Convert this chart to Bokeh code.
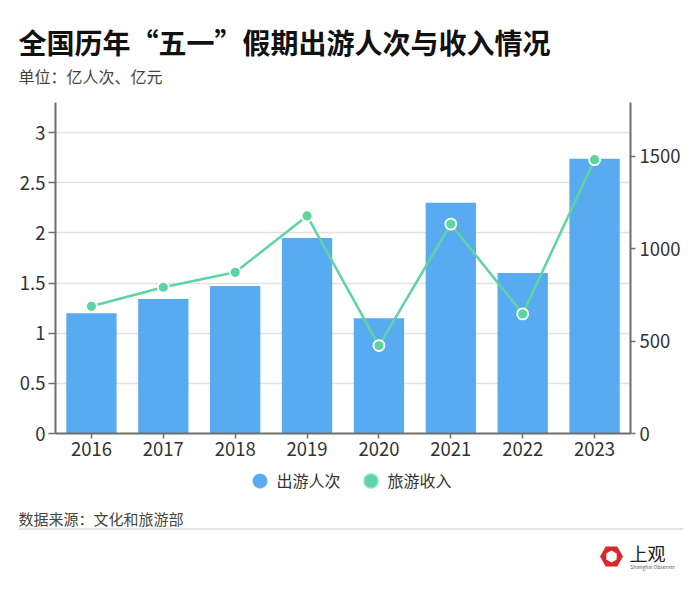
from bokeh.plotting import figure
from bokeh.layouts import column, row
from bokeh.models import (Range1d, LinearAxis, FixedTicker, Label, Legend, LegendItem,
                          ColumnDataSource, FactorRange)
from bokeh.embed import file_html
from bokeh.resources import INLINE
import math

years = ["2016", "2017", "2018", "2019", "2020", "2021", "2022", "2023"]
trips = [1.2, 1.34, 1.47, 1.95, 1.15, 2.3, 1.6, 2.74]          # 出游人次 (亿人次)
revenue = [688, 791, 871.6, 1176.7, 475.6, 1132.3, 646.8, 1480.6]  # 旅游收入 (亿元)
left_ticks = [0, 0.5, 1, 1.5, 2, 2.5, 3]
right_ticks = [0, 500, 1000, 1500]

BLUE = "#59abf1"
GREEN = "#5dd5a3"
FONT = "Noto Sans CJK SC"
AX = "#6e6e6e"
W = 700

def blank_fig(top, bottom):
    f = figure(width=W, height=bottom - top, x_range=Range1d(0, W), y_range=Range1d(bottom, top),
               output_backend="svg", toolbar_location=None, x_axis_location=None,
               y_axis_location=None, min_border=0, min_border_left=0, min_border_right=0,
               min_border_top=0, min_border_bottom=0)
    f.outline_line_color = None
    f.grid.visible = False
    return f

# ---------- header ----------
top = blank_fig(0, 95)
top.add_layout(Label(x=18, y=41, text="全国历年“五一”假期出游人次与收入情况", text_font=FONT,
                     text_font_size="28px", text_font_style="bold", text_color="#111111",
                     text_baseline="middle"))
top.add_layout(Label(x=18, y=75, text="单位：亿人次、亿元", text_font=FONT,
                     text_font_size="16px", text_color="#444444", text_baseline="middle"))

# ---------- main chart ----------
p = figure(width=W, height=367, x_range=FactorRange(*years, range_padding=0),
           y_range=Range1d(0, 3.3), output_backend="svg", toolbar_location=None,
           min_border_left=55, min_border_top=7, min_border_right=70,
           min_border_bottom=29)
p.extra_y_ranges = {"rev": Range1d(0, 1790)}
p.outline_line_color = None

src = ColumnDataSource(dict(year=years, trips=trips, revenue=revenue))
p.vbar(x="year", top="trips", width=0.7, source=src, fill_color=BLUE, line_color=None)
p.line(x="year", y="revenue", source=src, y_range_name="rev", line_color=GREEN, line_width=2.5)
p.scatter(x="year", y="revenue", source=src, y_range_name="rev", size=11,
          fill_color=GREEN, line_color="white", line_width=1.8)

def style_axis(ax, tick_out, standoff):
    ax.axis_line_color = AX
    ax.axis_line_width = 2
    ax.major_tick_line_color = AX
    ax.major_tick_line_width = 1.5
    ax.major_tick_out = tick_out
    ax.major_tick_in = 0
    ax.minor_tick_line_color = None
    ax.major_label_text_font = FONT
    ax.major_label_text_font_size = "18.5px"
    ax.major_label_text_color = "#333333"
    ax.major_label_standoff = standoff

p.yaxis.ticker = FixedTicker(ticks=left_ticks)
style_axis(p.yaxis[0], 7, 3)
style_axis(p.xaxis[0], 5, 3)

raxis = LinearAxis(y_range_name="rev", ticker=FixedTicker(ticks=right_ticks))
style_axis(raxis, 5, 4)
p.add_layout(raxis, "right")

p.xgrid.grid_line_color = None
p.ygrid.ticker = FixedTicker(ticks=left_ticks[1:])
p.ygrid.grid_line_color = "#e2e2e2"
p.ygrid.grid_line_width = 1.5

# ---------- footer ----------
bot = blank_fig(462, 595)
r1 = bot.scatter([-100], [-100], marker="circle", size=14, fill_color=BLUE, line_color=BLUE)
r2 = bot.scatter([-100], [-100], marker="circle", size=14, fill_color=GREEN,
                 line_color="#8be2bf", line_width=1.5)
legend = Legend(items=[LegendItem(label="出游人次", renderers=[r1]),
                       LegendItem(label="旅游收入", renderers=[r2])],
                orientation="horizontal", location=(241.5, 595 - 497.5),
                glyph_width=35, glyph_height=35, label_standoff=0, spacing=12,
                padding=0, margin=0, border_line_color=None, background_fill_alpha=0,
                label_text_font=FONT, label_text_font_size="16px",
                label_text_color="#333333", label_height=20)
bot.add_layout(legend, "center")

bot.add_layout(Label(x=18, y=518, text="数据来源：文化和旅游部", text_font=FONT,
                     text_font_size="15px", text_color="#444444", text_baseline="middle"))
bot.segment(x0=[18], y0=[528.5], x1=[683], y1=[528.5], line_color="#dddddd", line_width=1.5)

cx, cy = 611, 556
def hexagon(r, rot):
    xs, ys = [], []
    for k in range(6):
        a = math.radians(rot + 60 * k)
        xs.append(cx + r * math.cos(a))
        ys.append(cy + r * math.sin(a))
    return xs, ys
ox, oy = hexagon(11.5, 0)
ix, iy = hexagon(6, 30)
bot.patch(ox, oy, fill_color="#d9262c", line_color=None)
bot.patch(ix, iy, fill_color="white", line_color=None)
bot.add_layout(Label(x=629, y=552, text="上观", text_font=FONT, text_font_size="18px",
                     text_color="#222222", text_baseline="middle"))
bot.add_layout(Label(x=630, y=566, text="Shanghai Observer", text_font=FONT,
                     text_font_size="5px", text_color="#555555", text_baseline="middle"))

layout = column(row(top), p, row(bot), spacing=0)
open("out.html", "w").write(file_html(layout, INLINE))
